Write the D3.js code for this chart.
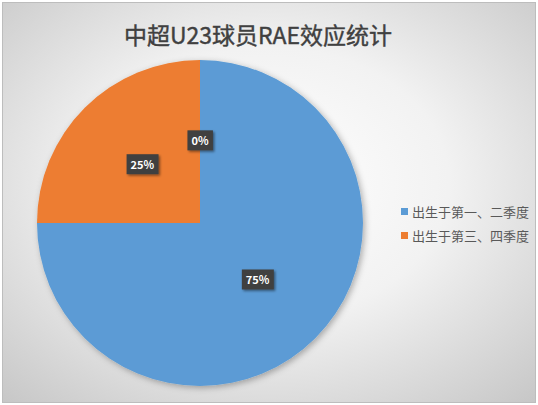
<!DOCTYPE html>
<html>
<head>
<meta charset="utf-8">
<script src="https://cdn.jsdelivr.net/npm/d3@7"></script>
<style>
  html, body { margin: 0; padding: 0; background: #fff; }
  svg { display: block; font-family: "Noto Sans CJK SC", "Noto Sans", sans-serif; }
</style>
</head>
<body>
<div id="chart"></div>
<script>
var width = 538,
    height = 405

var title = "中超U23球员RAE效应统计"
var categories = ["出生于第一、二季度", "出生于第三、四季度", ""]
var values = [75, 25, 0]
var colors = ["#5b9bd5", "#ed7d31", "#a5a5a5"]
// only the first two show up in the legend
var legendItems = [0, 1]

var cx = 200, cy = 223, r = 163

var svg = d3.select("#chart").append("svg")
    .attr("width", width)
    .attr("height", height)

var defs = svg.append("defs")

var bg = defs.append("radialGradient")
    .attr("id", "bg")
    .attr("cx", "50%").attr("cy", "45%").attr("r", "75%")
bg.append("stop").attr("offset", "0%").attr("stop-color", "#ffffff")
bg.append("stop").attr("offset", "45%").attr("stop-color", "#f2f2f2")
bg.append("stop").attr("offset", "100%").attr("stop-color", "#c6c6c6")

var shadow = defs.append("filter").attr("id", "shadow")
    .attr("x", "-20%").attr("y", "-20%").attr("width", "140%").attr("height", "140%")
shadow.append("feDropShadow")
    .attr("dx", 2).attr("dy", 2).attr("stdDeviation", 3)
    .attr("flood-color", "#000").attr("flood-opacity", 0.3)

var lblShadow = defs.append("filter").attr("id", "lblshadow")
    .attr("x", "-30%").attr("y", "-30%").attr("width", "160%").attr("height", "160%")
lblShadow.append("feDropShadow")
    .attr("dx", 1.5).attr("dy", 1.5).attr("stdDeviation", 1.2)
    .attr("flood-color", "#000").attr("flood-opacity", 0.45)

svg.append("rect")
    .attr("x", 2.5).attr("y", 2.5)
    .attr("width", width - 5).attr("height", height - 5)
    .attr("fill", "url(#bg)")
    .attr("stroke", "#bdbdbd")

svg.append("text")
    .attr("x", 258)
    .attr("y", 44)
    .attr("text-anchor", "middle")
    .attr("font-size", 23)
    .attr("fill", "#404040")
    .attr("stroke", "#404040")
    .attr("stroke-width", 0.4)
    .text(title)

var pie = d3.pie().sort(null).value(function(d) { return d })
var arcs = pie(values)

var arc = d3.arc().innerRadius(0).outerRadius(r)
var labelArc = d3.arc().innerRadius(r * 0.5).outerRadius(r * 0.5)

var g = svg.append("g")
    .attr("transform", "translate(" + cx + "," + cy + ")")

g.append("g")
    .attr("filter", "url(#shadow)")
  .selectAll("path")
    .data(arcs)
  .enter().append("path")
    .attr("d", arc)
    .attr("fill", function(d, i) { return colors[i] })

var total = d3.sum(values)
var labels = g.selectAll(".lbl")
    .data(arcs)
  .enter().append("g")
    .attr("class", "lbl")
    .attr("transform", function(d) {
      var c = labelArc.centroid(d)
      return "translate(" + c[0] + "," + c[1] + ")"
    })

labels.append("text")
    .attr("text-anchor", "middle")
    .attr("dy", "0.35em")
    .attr("font-size", 11)
    .attr("font-weight", "bold")
    .attr("fill", "#fff")
    .text(function(d) { return Math.round(d.data / total * 100) + "%" })

labels.each(function() {
  var sel = d3.select(this)
  var bb = sel.select("text").node().getBBox()
  sel.insert("rect", "text")
    .attr("x", bb.x - 4).attr("y", bb.y - 2)
    .attr("width", bb.width + 8).attr("height", bb.height + 4)
    .attr("fill", "#404040")
    .attr("filter", "url(#lblshadow)")
})

var legend = svg.append("g")
    .attr("transform", "translate(401,212)")

var item = legend.selectAll(".item")
    .data(legendItems)
  .enter().append("g")
    .attr("class", "item")
    .attr("transform", function(d, i) { return "translate(0," + i * 24 + ")" })

item.append("rect")
    .attr("x", 0).attr("y", -4)
    .attr("width", 7).attr("height", 7)
    .attr("fill", function(d) { return colors[d] })

item.append("text")
    .attr("x", 11)
    .attr("dy", "0.35em")
    .attr("font-size", 13)
    .attr("fill", "#595959")
    .text(function(d) { return categories[d] })
</script>
</body>
</html>
